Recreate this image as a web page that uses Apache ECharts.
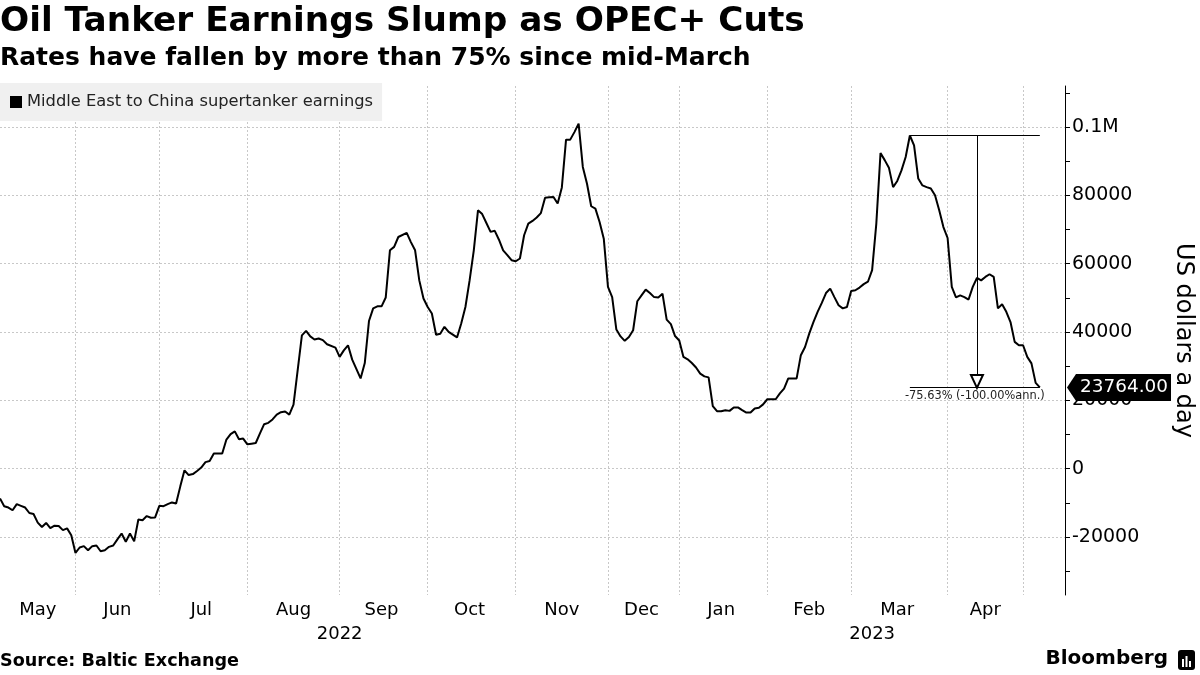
<!DOCTYPE html>
<html>
<head>
<meta charset="utf-8">
<script src="https://cdn.jsdelivr.net/npm/echarts@6/dist/echarts.min.js"></script>
<style>
html,body{margin:0;padding:0;background:#fff;}
#main{width:1200px;height:675px;}
</style>
</head>
<body>
<div id="main"></div>
<script>
// Trading-day slots on the x axis (one per business day, May 2022 - early May 2023)
const tradingDays = Array.from({length: 255}, (_, i) => String(i));

// Month boundaries (trading-day index where each month starts) and labels
const monthBounds = [0, 18, 38, 59, 81, 102, 123, 145, 162, 183, 203, 226, 244];
const monthLabels = ['May', 'Jun', 'Jul', 'Aug', 'Sep', 'Oct', 'Nov', 'Dec', 'Jan', 'Feb', 'Mar', 'Apr'];
const yearBounds = [0, 162, 254];
const yearLabels = ['2022', '2023'];

// Y axis ticks
const yTicks = [-20000, 0, 20000, 40000, 60000, 80000, 100000];
const yMinorTicks = [-30000, -20000, -10000, 0, 10000, 20000, 30000, 40000, 50000, 60000, 70000, 80000, 90000, 100000, 110000];

// Series: Middle East to China supertanker earnings (USD/day)
const pointIdx = [0,1,2,3,4,5,6,7,8,9,10,11,12,13,14,15,16,17,18,19,20,21,22,23,24,25,26,27,28,29,30,31,32,33,34,35,36,37,38,39,40,41,42,43,44,45,46,47,48,49,50,51,52,53,54,55,56,57,58,59,60,61,62,63,64,65,66,67,68,69,70,72,73,74,75,76,77,78,80,81,82,83,84,86,87,88,89,90,91,92,93,94,95,97,98,99,100,101,102,103,104,105,106,107,109,110,111,112,113,114,115,116,117,118,119,120,121,122,123,124,125,126,127,128,129,130,131,132,133,134,135,136,137,138,139,140,141,142,143,144,145,146,147,148,149,150,151,152,153,154,155,156,157,158,159,160,161,162,163,164,165,166,167,168,169,170,171,172,173,174,175,176,177,178,179,180,181,182,183,184,185,186,187,188,189,190,191,192,193,194,195,196,197,198,199,200,201,202,203,204,205,206,207,208,209,210,211,212,213,214,215,216,217,218,219,220,221,222,223,224,225,226,227,228,229,230,231,232,233,234,235,236,237,238,239,240,241,242,243,244,245,246,247,248];
const earnings = [-8750,-11000,-11400,-12200,-10400,-10900,-11400,-13000,-13300,-15800,-17100,-15900,-17400,-16700,-16800,-18000,-17500,-19500,-24700,-23100,-22700,-23900,-22700,-22500,-24200,-23900,-22900,-22500,-20700,-19000,-21400,-19000,-21300,-14900,-15100,-13900,-14400,-14300,-10900,-11000,-10400,-9900,-10200,-5200,-500,-1900,-1600,-700,300,1900,2200,4400,4400,4400,8500,10100,10900,8600,8800,7100,7300,7500,10300,13000,13400,14400,15800,16500,16700,15800,18700,39000,40300,38700,37800,38100,37600,36400,35400,32700,34600,36100,31900,26400,30900,43200,46900,47500,47500,50100,63900,64900,67800,69000,66300,63900,55100,49800,47300,45400,39200,39500,41500,40000,38400,42500,47300,55100,63900,75600,74500,71900,69300,69600,67000,63900,62500,61000,60700,61500,68300,71700,72500,73500,74800,79300,79400,79500,77600,82300,96300,96300,98500,101000,88300,83400,76800,76100,72200,67300,53200,50200,40700,38700,37400,38500,40500,49000,50700,52400,51400,50200,50100,51200,43600,42300,38800,37500,32700,32000,30900,29600,27800,27000,26700,18300,16800,16800,17100,16900,17900,17900,17100,16400,16400,17600,17800,18800,20300,20300,20300,22000,23400,26400,26400,26400,33200,35600,39500,42900,45900,48500,51400,52700,50200,47800,46900,47300,52000,52200,53000,54000,54700,58100,71700,92400,90300,88100,82400,84200,87300,91200,97513,94600,84900,82900,82400,82000,80000,75600,70700,67500,53200,50100,50700,50200,49500,53200,55800,55100,56100,56900,56100,46900,48100,45900,42900,37100,36100,36100,32700,30800,25100,23764];

const seriesData = pointIdx.map((d, i) => [d, earnings[i]]);

// Label positions (middle of each month / year span)
const monthLabelMap = new Map();
for (let i = 0; i < monthLabels.length; i++) {
  monthLabelMap.set(Math.floor((monthBounds[i] + monthBounds[i + 1]) / 2), monthLabels[i]);
}
const gridSet = new Set(monthBounds.slice(1));
const yearLabelMap = new Map();
for (let i = 0; i < yearLabels.length; i++) {
  yearLabelMap.set(Math.floor((yearBounds[i] + yearBounds[i + 1]) / 2), yearLabels[i]);
}

// Annotation: peak since March to latest
const lastI = pointIdx.length - 1;
const lastIdx = pointIdx[lastI];
const lastValue = earnings[lastI];
let peakI = 0;
for (let i = 0; i < pointIdx.length; i++) {
  if (pointIdx[i] >= monthBounds[10] && (peakI === 0 || earnings[i] > earnings[peakI])) peakI = i;
}
const peakIdx = pointIdx[peakI];
const peakValue = earnings[peakI];
const midIdx = Math.round((peakIdx + lastIdx) / 2);
const pct = (lastValue / peakValue - 1) * 100;
const annText = pct.toFixed(2) + '% (-100.00%ann.)';

const FONT = 'DejaVu Sans';
const gridLine = {show: true, lineStyle: {color: '#c8c8c8', width: 1, type: [2, 2]}};

const chart = echarts.init(document.getElementById('main'), null, {renderer: 'canvas'});
const option = {
  animation: false,
  backgroundColor: '#ffffff',
  textStyle: {fontFamily: FONT, color: '#000'},
  title: [
    {text: 'Oil Tanker Earnings Slump as OPEC+ Cuts', left: 0, top: 5, padding: 0,
     textStyle: {fontFamily: FONT, fontWeight: 'bold', fontSize: 34.3, color: '#000'}},
    {text: 'Rates have fallen by more than 75% since mid-March', left: 0, top: 46, padding: 0,
     textStyle: {fontFamily: FONT, fontWeight: 'bold', fontSize: 25, color: '#000'}},
    {text: 'Source: Baltic Exchange', left: 0, top: 652, padding: 0,
     textStyle: {fontFamily: FONT, fontWeight: 'bold', fontSize: 17.6, color: '#000'}},
    {text: 'Bloomberg', right: 32, top: 649, padding: 0,
     textStyle: {fontFamily: FONT, fontWeight: 'bold', fontSize: 20, color: '#000'}}
  ],
  graphic: [
    {type: 'group', right: 5, top: 650, children: [
      {type: 'rect', shape: {x: 0, y: 0, width: 17, height: 20, r: 3}, style: {fill: '#000'}},
      {type: 'rect', shape: {x: 4, y: 9, width: 2, height: 8}, style: {fill: '#fff'}},
      {type: 'rect', shape: {x: 7.5, y: 6, width: 2, height: 11}, style: {fill: '#fff'}},
      {type: 'rect', shape: {x: 11, y: 11, width: 2, height: 6}, style: {fill: '#fff'}}
    ]}
  ],
  legend: {
    left: 0, top: 83, icon: 'rect', itemWidth: 12, itemHeight: 12, itemGap: 10,
    backgroundColor: '#f0f0f0', padding: [11, 9, 11, 10], selectedMode: false,
    textStyle: {fontFamily: FONT, fontSize: 16.3, color: '#222'},
    data: ['Middle East to China supertanker earnings']
  },
  grid: {left: 0, right: 135, top: 86, bottom: 80, containLabel: false, outerBoundsMode: 'none'},
  xAxis: [
    {
      type: 'category', data: tradingDays, boundaryGap: false,
      axisLine: {show: false}, axisTick: {show: false},
      axisLabel: {
        interval: (i) => monthLabelMap.has(i),
        formatter: (v, i) => monthLabelMap.get(i) || '',
        fontFamily: FONT, fontSize: 18, color: '#000', margin: 6
      },
      splitLine: Object.assign({}, gridLine, {interval: (i) => gridSet.has(i)})
    },
    {
      type: 'category', data: tradingDays, boundaryGap: false, position: 'bottom', offset: 24,
      axisLine: {show: false}, axisTick: {show: false}, splitLine: {show: false},
      axisLabel: {
        interval: (i) => yearLabelMap.has(i),
        formatter: (v, i) => yearLabelMap.get(i) || '',
        fontFamily: FONT, fontSize: 18, color: '#000', margin: 6
      }
    }
  ],
  yAxis: [
    {
      type: 'value', position: 'right', min: -37000, max: 112000,
      axisLine: {show: true, lineStyle: {color: '#000', width: 1}},
      axisTick: {show: true, length: 5, customValues: yTicks, lineStyle: {color: '#000'}},
      axisLabel: {customValues: yTicks, fontFamily: FONT, fontSize: 19, color: '#000', margin: 7,
        formatter: (v) => v === 100000 ? '0.1M' : String(v)},
      splitLine: gridLine,
      name: 'US dollars a day', nameLocation: 'middle', nameRotate: -90, nameGap: 106,
      nameTextStyle: {fontFamily: FONT, fontSize: 24, color: '#000'}
    },
    {
      type: 'value', position: 'right', min: -37000, max: 112000,
      axisLine: {show: false},
      axisTick: {show: true, length: 5, customValues: yMinorTicks, lineStyle: {color: '#000'}},
      axisLabel: {show: false}, splitLine: {show: false}
    }
  ],
  series: [{
    name: 'Middle East to China supertanker earnings',
    type: 'line', data: seriesData, xAxisIndex: 0, yAxisIndex: 0,
    showSymbol: false, symbol: 'none',
    lineStyle: {color: '#000', width: 2}, itemStyle: {color: '#000'},
    markLine: {
      silent: true, symbol: 'none', precision: 2,
      lineStyle: {color: '#000', width: 1, type: 'solid'},
      label: {show: false},
      data: [
        [{coord: [peakIdx, peakValue]}, {coord: [lastIdx, peakValue]}],
        [{coord: [midIdx, peakValue], symbol: 'none'},
         {coord: [midIdx, lastValue], symbol: 'emptyTriangle', symbolSize: [12, 13], symbolOffset: [0, 6]}],
        [{coord: [peakIdx, lastValue],
          label: {show: true, position: 'insideMiddleBottom', formatter: annText,
                  fontFamily: FONT, fontSize: 11.4, color: '#222', distance: 3}},
         {coord: [lastIdx, lastValue]}]
      ]
    },
    markPoint: {
      silent: true,
      symbol: 'path://M0,13.5L9,0L104,0L104,27L9,27Z',
      symbolSize: [104, 27], symbolKeepAspect: false, symbolOffset: [54, 0],
      itemStyle: {color: '#000'},
      label: {show: true, color: '#fff', fontFamily: FONT, fontSize: 18.4, offset: [5, 0],
              formatter: lastValue.toFixed(2)},
      data: [{coord: [tradingDays.length - 1, lastValue]}]
    }
  }]
};
chart.setOption(option);
</script>
</body>
</html>
